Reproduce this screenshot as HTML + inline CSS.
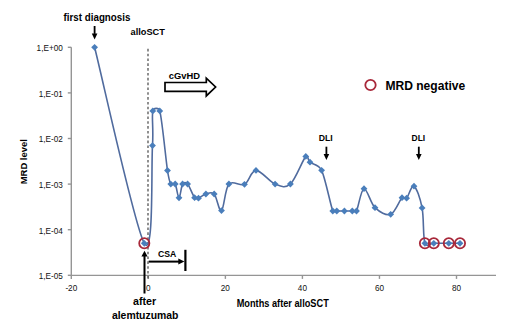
<!DOCTYPE html>
<html><head><meta charset="utf-8"><style>
html,body{margin:0;padding:0;background:#fff;}
svg{display:block;}
text{font-family:"Liberation Sans",sans-serif;}
.tk{font-size:8.2px;fill:#111;}
.b{font-weight:bold;fill:#000;}
</style></head><body>
<svg width="520" height="328" viewBox="0 0 520 328">
<path d="M71.3 47.3 V275.4 H496.0" stroke="#959595" stroke-width="1.4" fill="none"/>
<path d="M67.8 47.30 H71.3" stroke="#959595" stroke-width="1.4"/>
<text x="62.8" y="51.10" text-anchor="end" class="tk">1,E+00</text>
<path d="M67.8 92.90 H71.3" stroke="#959595" stroke-width="1.4"/>
<text x="62.8" y="96.70" text-anchor="end" class="tk">1,E-01</text>
<path d="M67.8 138.50 H71.3" stroke="#959595" stroke-width="1.4"/>
<text x="62.8" y="142.30" text-anchor="end" class="tk">1,E-02</text>
<path d="M67.8 184.10 H71.3" stroke="#959595" stroke-width="1.4"/>
<text x="62.8" y="187.90" text-anchor="end" class="tk">1,E-03</text>
<path d="M67.8 229.70 H71.3" stroke="#959595" stroke-width="1.4"/>
<text x="62.8" y="233.50" text-anchor="end" class="tk">1,E-04</text>
<path d="M67.8 275.30 H71.3" stroke="#959595" stroke-width="1.4"/>
<text x="62.8" y="279.10" text-anchor="end" class="tk">1,E-05</text>
<path d="M71.30 275.4 V278.9" stroke="#959595" stroke-width="1.4"/>
<text x="71.30" y="291.3" text-anchor="middle" class="tk">-20</text>
<path d="M148.34 275.4 V278.9" stroke="#959595" stroke-width="1.4"/>
<text x="148.34" y="291.3" text-anchor="middle" class="tk">0</text>
<path d="M225.38 275.4 V278.9" stroke="#959595" stroke-width="1.4"/>
<text x="225.38" y="291.3" text-anchor="middle" class="tk">20</text>
<path d="M302.42 275.4 V278.9" stroke="#959595" stroke-width="1.4"/>
<text x="302.42" y="291.3" text-anchor="middle" class="tk">40</text>
<path d="M379.46 275.4 V278.9" stroke="#959595" stroke-width="1.4"/>
<text x="379.46" y="291.3" text-anchor="middle" class="tk">60</text>
<path d="M456.50 275.4 V278.9" stroke="#959595" stroke-width="1.4"/>
<text x="456.50" y="291.3" text-anchor="middle" class="tk">80</text>
<path d="M148.0 48.8 V278.5" stroke="#555" stroke-width="1.3" stroke-dasharray="2.6 2.23"/>
<path d="M94.60 47.30 C102.88 79.97 134.65 226.92 144.30 243.30 C153.95 259.68 151.08 167.67 152.50 145.60 C153.61 128.28 151.58 116.68 152.80 110.90 C153.52 107.47 158.96 107.50 159.80 110.90 C162.25 120.83 165.67 158.30 167.50 170.50 C168.54 177.42 169.52 181.85 170.80 184.10 C171.89 186.01 174.07 182.11 175.20 184.00 C176.57 186.28 177.77 197.80 179.00 197.80 C180.23 197.80 181.17 186.30 182.60 184.00 C183.92 181.88 185.95 182.12 187.60 184.00 C189.60 186.28 192.78 195.33 194.60 197.70 C195.80 199.26 196.63 198.81 198.50 198.20 C200.38 197.58 203.28 194.70 205.90 194.00 C208.52 193.30 211.60 191.23 214.20 194.00 C216.80 196.77 219.05 212.27 221.50 210.60 C223.95 208.93 225.07 188.38 228.90 184.00 C232.73 179.62 239.98 186.57 244.50 184.30 C249.02 182.03 250.90 170.43 256.00 170.40 C261.10 170.37 269.37 181.83 275.10 184.10 C280.83 186.37 285.28 188.62 290.40 184.00 C295.52 179.38 302.53 160.03 305.80 156.40 C308.19 153.74 307.37 159.88 310.00 162.20 C312.63 164.52 318.61 163.89 321.60 170.30 C325.40 178.43 330.27 204.22 332.80 211.00 C333.50 212.87 334.87 211.00 336.80 211.00 C338.73 211.00 341.82 211.00 344.40 211.00 C346.98 211.00 350.28 211.00 352.30 211.00 C354.32 211.00 355.52 212.86 356.50 211.00 C358.45 207.28 360.92 189.25 364.00 188.70 C367.08 188.15 370.55 203.43 375.00 207.70 C379.45 211.97 386.20 215.97 390.70 214.30 C395.20 212.63 399.35 200.38 402.00 197.70 C403.63 196.05 404.93 199.80 406.60 198.20 C408.60 196.28 411.42 184.58 414.00 186.20 C416.58 187.82 420.28 198.38 422.10 207.90 C423.92 217.42 422.95 237.40 424.90 243.30 C426.30 247.53 429.82 243.30 433.80 243.30 C437.78 243.30 444.43 243.30 448.80 243.30 C453.17 243.30 458.13 243.30 460.00 243.30" stroke="#506b9e" stroke-width="1.6" fill="none"/>
<path d="M94.60 43.90 L98.00 47.30 L94.60 50.70 L91.20 47.30 Z" fill="#4a7ebb"/>
<path d="M144.30 239.90 L147.70 243.30 L144.30 246.70 L140.90 243.30 Z" fill="#4a7ebb"/>
<path d="M152.50 142.20 L155.90 145.60 L152.50 149.00 L149.10 145.60 Z" fill="#4a7ebb"/>
<path d="M152.80 107.50 L156.20 110.90 L152.80 114.30 L149.40 110.90 Z" fill="#4a7ebb"/>
<path d="M159.80 107.50 L163.20 110.90 L159.80 114.30 L156.40 110.90 Z" fill="#4a7ebb"/>
<path d="M167.50 167.10 L170.90 170.50 L167.50 173.90 L164.10 170.50 Z" fill="#4a7ebb"/>
<path d="M170.80 180.70 L174.20 184.10 L170.80 187.50 L167.40 184.10 Z" fill="#4a7ebb"/>
<path d="M175.20 180.60 L178.60 184.00 L175.20 187.40 L171.80 184.00 Z" fill="#4a7ebb"/>
<path d="M179.00 194.40 L182.40 197.80 L179.00 201.20 L175.60 197.80 Z" fill="#4a7ebb"/>
<path d="M182.60 180.60 L186.00 184.00 L182.60 187.40 L179.20 184.00 Z" fill="#4a7ebb"/>
<path d="M187.60 180.60 L191.00 184.00 L187.60 187.40 L184.20 184.00 Z" fill="#4a7ebb"/>
<path d="M194.60 194.30 L198.00 197.70 L194.60 201.10 L191.20 197.70 Z" fill="#4a7ebb"/>
<path d="M198.50 194.80 L201.90 198.20 L198.50 201.60 L195.10 198.20 Z" fill="#4a7ebb"/>
<path d="M205.90 190.60 L209.30 194.00 L205.90 197.40 L202.50 194.00 Z" fill="#4a7ebb"/>
<path d="M214.20 190.60 L217.60 194.00 L214.20 197.40 L210.80 194.00 Z" fill="#4a7ebb"/>
<path d="M221.50 207.20 L224.90 210.60 L221.50 214.00 L218.10 210.60 Z" fill="#4a7ebb"/>
<path d="M228.90 180.60 L232.30 184.00 L228.90 187.40 L225.50 184.00 Z" fill="#4a7ebb"/>
<path d="M244.50 180.90 L247.90 184.30 L244.50 187.70 L241.10 184.30 Z" fill="#4a7ebb"/>
<path d="M256.00 167.00 L259.40 170.40 L256.00 173.80 L252.60 170.40 Z" fill="#4a7ebb"/>
<path d="M275.10 180.70 L278.50 184.10 L275.10 187.50 L271.70 184.10 Z" fill="#4a7ebb"/>
<path d="M290.40 180.60 L293.80 184.00 L290.40 187.40 L287.00 184.00 Z" fill="#4a7ebb"/>
<path d="M305.80 153.00 L309.20 156.40 L305.80 159.80 L302.40 156.40 Z" fill="#4a7ebb"/>
<path d="M310.00 158.80 L313.40 162.20 L310.00 165.60 L306.60 162.20 Z" fill="#4a7ebb"/>
<path d="M321.60 166.90 L325.00 170.30 L321.60 173.70 L318.20 170.30 Z" fill="#4a7ebb"/>
<path d="M332.80 207.60 L336.20 211.00 L332.80 214.40 L329.40 211.00 Z" fill="#4a7ebb"/>
<path d="M336.80 207.60 L340.20 211.00 L336.80 214.40 L333.40 211.00 Z" fill="#4a7ebb"/>
<path d="M344.40 207.60 L347.80 211.00 L344.40 214.40 L341.00 211.00 Z" fill="#4a7ebb"/>
<path d="M352.30 207.60 L355.70 211.00 L352.30 214.40 L348.90 211.00 Z" fill="#4a7ebb"/>
<path d="M356.50 207.60 L359.90 211.00 L356.50 214.40 L353.10 211.00 Z" fill="#4a7ebb"/>
<path d="M364.00 185.30 L367.40 188.70 L364.00 192.10 L360.60 188.70 Z" fill="#4a7ebb"/>
<path d="M375.00 204.30 L378.40 207.70 L375.00 211.10 L371.60 207.70 Z" fill="#4a7ebb"/>
<path d="M390.70 210.90 L394.10 214.30 L390.70 217.70 L387.30 214.30 Z" fill="#4a7ebb"/>
<path d="M402.00 194.30 L405.40 197.70 L402.00 201.10 L398.60 197.70 Z" fill="#4a7ebb"/>
<path d="M406.60 194.80 L410.00 198.20 L406.60 201.60 L403.20 198.20 Z" fill="#4a7ebb"/>
<path d="M414.00 182.80 L417.40 186.20 L414.00 189.60 L410.60 186.20 Z" fill="#4a7ebb"/>
<path d="M422.10 204.50 L425.50 207.90 L422.10 211.30 L418.70 207.90 Z" fill="#4a7ebb"/>
<path d="M424.90 239.90 L428.30 243.30 L424.90 246.70 L421.50 243.30 Z" fill="#4a7ebb"/>
<path d="M433.80 239.90 L437.20 243.30 L433.80 246.70 L430.40 243.30 Z" fill="#4a7ebb"/>
<path d="M448.80 239.90 L452.20 243.30 L448.80 246.70 L445.40 243.30 Z" fill="#4a7ebb"/>
<path d="M460.00 239.90 L463.40 243.30 L460.00 246.70 L456.60 243.30 Z" fill="#4a7ebb"/>
<circle cx="144.3" cy="243.3" r="5.1" fill="none" stroke="#a8283a" stroke-width="1.8"/>
<circle cx="424.9" cy="243.3" r="5.1" fill="none" stroke="#a8283a" stroke-width="1.8"/>
<circle cx="433.8" cy="243.3" r="5.1" fill="none" stroke="#a8283a" stroke-width="1.8"/>
<circle cx="448.8" cy="243.3" r="5.1" fill="none" stroke="#a8283a" stroke-width="1.8"/>
<circle cx="460.0" cy="243.3" r="5.1" fill="none" stroke="#a8283a" stroke-width="1.8"/>
<circle cx="370.5" cy="85" r="5.2" fill="none" stroke="#a8283a" stroke-width="1.8"/>
<text x="63.6" y="21.2" class="b" font-size="10.8" textLength="66.8" lengthAdjust="spacingAndGlyphs" >first diagnosis</text>
<text x="130.6" y="35.1" class="b" font-size="9.7" textLength="34.3" lengthAdjust="spacingAndGlyphs" >alloSCT</text>
<text x="168.8" y="78.9" class="b" font-size="9.7" textLength="31.2" lengthAdjust="spacingAndGlyphs" >cGvHD</text>
<text x="385.4" y="89.5" class="b" font-size="12.2" textLength="79.8" lengthAdjust="spacingAndGlyphs" >MRD negative</text>
<text x="318.7" y="141.1" class="b" font-size="9.8" textLength="14" lengthAdjust="spacingAndGlyphs" >DLI</text>
<text x="411.6" y="141.1" class="b" font-size="9.8" textLength="13.6" lengthAdjust="spacingAndGlyphs" >DLI</text>
<text x="157.9" y="256.7" class="b" font-size="9.6" textLength="18.3" lengthAdjust="spacingAndGlyphs" >CSA</text>
<text x="133" y="305.2" class="b" font-size="10.6" textLength="23.2" lengthAdjust="spacingAndGlyphs" >after</text>
<text x="111.9" y="318.6" class="b" font-size="10.6" textLength="66.6" lengthAdjust="spacingAndGlyphs" >alemtuzumab</text>
<text x="236.7" y="306.5" class="b" font-size="10.6" textLength="92.1" lengthAdjust="spacingAndGlyphs" >Months after alloSCT</text>
<text transform="translate(27.4 184.3) rotate(-90)" class="b" font-size="9.6" textLength="45.2" lengthAdjust="spacingAndGlyphs">MRD level</text>
<path d="M94.6 26 V33.9" stroke="#000" stroke-width="1.8"/><path d="M91.8 33.4 L97.39999999999999 33.4 L94.6 39.4 Z" fill="#000"/>
<path d="M326.4 146.7 V154.5" stroke="#000" stroke-width="1.8"/><path d="M323.59999999999997 154 L329.2 154 L326.4 160 Z" fill="#000"/>
<path d="M418.8 146.7 V154.5" stroke="#000" stroke-width="1.8"/><path d="M416.0 154 L421.6 154 L418.8 160 Z" fill="#000"/>
<path d="M144.5 293.5 V256" stroke="#000" stroke-width="2"/>
<path d="M141.4 256.5 L147.6 256.5 L144.5 250.8 Z" fill="#000"/>
<path d="M148.7 261.6 H179" stroke="#000" stroke-width="2"/>
<path d="M178.3 258.6 L178.3 264.6 L184.4 261.6 Z" fill="#000"/>
<path d="M185.4 249.8 V271" stroke="#000" stroke-width="2.2"/>
<path d="M165 82.5 H206.3 V78.2 L215.6 87 L206.3 95.9 V91.3 H165 Z" fill="#fff" stroke="#000" stroke-width="1.7" stroke-linejoin="miter"/>
</svg>
</body></html>
